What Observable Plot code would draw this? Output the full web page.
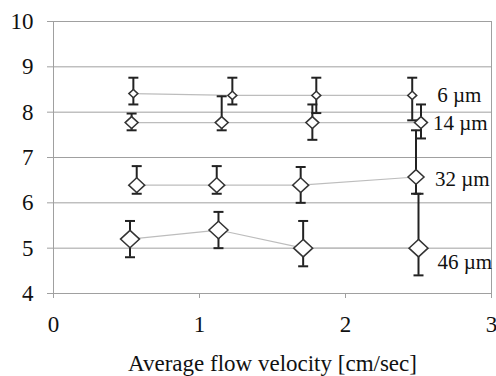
<!DOCTYPE html>
<html><head><meta charset="utf-8">
<script src="https://cdn.jsdelivr.net/npm/d3@7"></script>
<script src="https://cdn.jsdelivr.net/npm/@observablehq/plot@0.6"></script>
<style>
body{margin:0;background:#fff}
</style>
</head><body><div id="chart"></div>
<script>
const series = ["6 µm", "14 µm", "32 µm", "46 µm"];
const velocity6  = [0.547, 1.225, 1.80, 2.457];
const velocity14 = [0.535, 1.152, 1.773, 2.517];
const velocity32 = [0.57, 1.118, 1.693, 2.483];
const velocity46 = [0.524, 1.13, 1.71, 2.50];
const mean6  = [8.41, 8.37, 8.37, 8.37];
const mean14 = [7.77, 7.77, 7.77, 7.77];
const mean32 = [6.39, 6.39, 6.39, 6.57];
const mean46 = [5.2, 5.4, 5.0, 5.0];
const high6  = [8.76, 8.76, 8.76, 8.76];
const low6   = [8.17, 8.17, 7.98, 7.82];
const high14 = [7.97, 8.35, 8.17, 8.17];
const low14  = [7.6, 7.6, 7.39, 7.42];
const high32 = [6.81, 6.81, 6.79, 7.6];
const low32  = [6.2, 6.2, 6.0, 6.2];
const high46 = [5.6, 5.8, 5.6, 6.2];
const low46  = [4.8, 5.0, 4.6, 4.4];
const xTicks = [0, 1, 2, 3];
const yTicks = [4, 5, 6, 7, 8, 9, 10];

const cols = [
  [velocity6, mean6, low6, high6],
  [velocity14, mean14, low14, high14],
  [velocity32, mean32, low32, high32],
  [velocity46, mean46, low46, high46]
];
const rows = [];
series.forEach((s, i) => {
  const [v, m, lo, hi] = cols[i];
  v.forEach((x, j) => rows.push({series: s, v: x, mean: m[j], low: lo[j], high: hi[j]}));
});

const diamond = {
  draw(ctx, size) {
    const r = Math.sqrt(size / Math.PI);
    const h = r * 0.92;
    ctx.moveTo(0, -h); ctx.lineTo(r, 0); ctx.lineTo(0, h); ctx.lineTo(-r, 0); ctx.closePath();
  }
};
const cap = {
  draw(ctx, size) {
    const r = Math.sqrt(size / Math.PI);
    ctx.moveTo(-r, 0); ctx.lineTo(r, 0);
  }
};
const markerR = [4.5, 6.5, 8, 9.5];
const labelOffsets = [[25, 0], [12, 1], [19, 2], [19, 14]];

const gray = "#a0a0a0";
const ink = "#222";
const fmt = d3.format("d");
const face = "Liberation Serif";

const marks = [
  Plot.gridY(yTicks, {stroke: gray, strokeOpacity: 1}),
  Plot.frame({stroke: gray}),
  Plot.axisY({ticks: yTicks, tickFormat: fmt, tickSize: 6, tickPadding: 14, stroke: gray, fill: "#111", label: null, fontSize: 23, fontFamily: face}),
  Plot.axisX({ticks: xTicks, tickFormat: fmt, tickSize: 5, tickPadding: 17, stroke: gray, fill: "#111", fontSize: 23, fontFamily: face,
    label: "Average flow velocity [cm/sec]", labelAnchor: "center", labelArrow: "none", labelOffset: 77}),
  Plot.line(rows, {x: "v", y: "mean", z: "series", stroke: "#bdbdbd", strokeWidth: 1.2}),
  Plot.ruleX(rows, {x: "v", y1: "low", y2: "high", stroke: ink, strokeWidth: 2}),
  Plot.dot(rows, {x: "v", y: "low", symbol: cap, r: 5, stroke: ink, strokeWidth: 2, fill: "none"}),
  Plot.dot(rows, {x: "v", y: "high", symbol: cap, r: 5, stroke: ink, strokeWidth: 2, fill: "none"})
];
series.forEach((s, i) => {
  marks.push(Plot.dot(rows.filter(d => d.series === s),
    {x: "v", y: "mean", symbol: diamond, r: markerR[i], fill: "white", stroke: "#333", strokeWidth: 1.5}));
});
series.forEach((s, i) => {
  const last = rows.filter(d => d.series === s).slice(-1);
  marks.push(Plot.text(last, {x: "v", y: "mean", text: () => s, textAnchor: "start", fontFamily: face,
    dx: labelOffsets[i][0], dy: labelOffsets[i][1], fill: "#111", fontSize: 21}));
});

const chart = Plot.plot({
  width: 496, height: 376,
  marginLeft: 53, marginRight: 5, marginTop: 21, marginBottom: 83,
  x: {domain: [0, 3]},
  y: {domain: [4, 10]},
  style: {fontSize: "22px", background: "#fff", color: "#111", overflow: "visible"},
  marks
});
d3.select(chart).attr("font-family", face);
d3.select(chart).selectAll("text").attr("font-family", face);
document.getElementById("chart").appendChild(chart);
</script>
</body></html>
